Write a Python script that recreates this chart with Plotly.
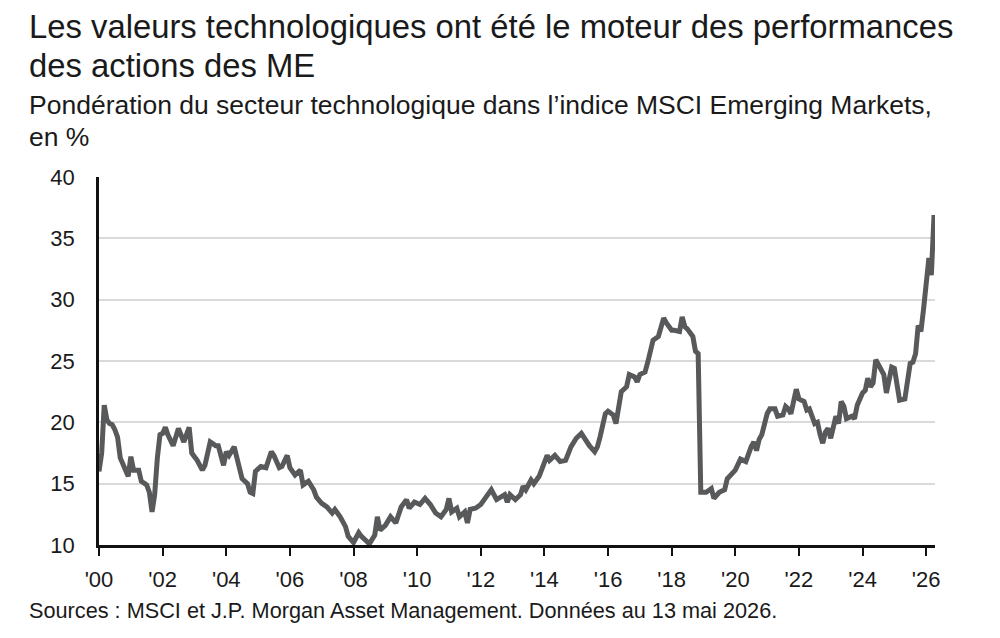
import plotly.graph_objects as go

# Tech sector weight in MSCI Emerging Markets index, %
dates = [
    "2000-01", "2000-02", "2000-03", "2000-04", "2000-05", "2000-06", "2000-07", "2000-08", "2000-09", "2000-11", "2000-12",
    "2001-01", "2001-02", "2001-04", "2001-05", "2001-07", "2001-08", "2001-09", "2001-10", "2001-11", "2001-12",
    "2002-01", "2002-02", "2002-03", "2002-05", "2002-07", "2002-08", "2002-09", "2002-11", "2002-12",
    "2003-01", "2003-02", "2003-04", "2003-05", "2003-07", "2003-09", "2003-10", "2003-12",
    "2004-01", "2004-02", "2004-04", "2004-05", "2004-07", "2004-09", "2004-10", "2004-11", "2004-12",
    "2005-02", "2005-04", "2005-06", "2005-07", "2005-09", "2005-10", "2005-12",
    "2006-01", "2006-03", "2006-05", "2006-06", "2006-08", "2006-10", "2006-11",
    "2007-01", "2007-03", "2007-05", "2007-06", "2007-08", "2007-10", "2007-11",
    "2008-01", "2008-03", "2008-04", "2008-07", "2008-09", "2008-10", "2008-11",
    "2009-01", "2009-03", "2009-05", "2009-07", "2009-09", "2009-10", "2009-12",
    "2010-02", "2010-04", "2010-06", "2010-08", "2010-10", "2010-12",
    "2011-01", "2011-02", "2011-04", "2011-05", "2011-07", "2011-08", "2011-09", "2011-11",
    "2012-01", "2012-03", "2012-05", "2012-07", "2012-09", "2012-10", "2012-11", "2012-12",
    "2013-02", "2013-04", "2013-05", "2013-06", "2013-08", "2013-09", "2013-11",
    "2014-01", "2014-02", "2014-03", "2014-05", "2014-07", "2014-09", "2014-11",
    "2015-01", "2015-03", "2015-05", "2015-06", "2015-08", "2015-09", "2015-10", "2015-12",
    "2016-01", "2016-03", "2016-04", "2016-05", "2016-06", "2016-08", "2016-09", "2016-11", "2016-12",
    "2017-01", "2017-03", "2017-04", "2017-05", "2017-06", "2017-08", "2017-10", "2017-11",
    "2018-01", "2018-02", "2018-04", "2018-05", "2018-06", "2018-07", "2018-09", "2018-10", "2018-11", "2018-12",
    "2019-02", "2019-04", "2019-05", "2019-07", "2019-09", "2019-10", "2019-11",
    "2020-01", "2020-03", "2020-05", "2020-07", "2020-08", "2020-09", "2020-10", "2020-11",
    "2021-01", "2021-02", "2021-04", "2021-05", "2021-07", "2021-08", "2021-09", "2021-10", "2021-12",
    "2022-01", "2022-03", "2022-04", "2022-05", "2022-07", "2022-08", "2022-09", "2022-10", "2022-11", "2022-12",
    "2023-01", "2023-02", "2023-03", "2023-04", "2023-05", "2023-06", "2023-07", "2023-09", "2023-10", "2023-11",
    "2024-01", "2024-02", "2024-03", "2024-04", "2024-05", "2024-06", "2024-08", "2024-09", "2024-10", "2024-11", "2024-12",
    "2025-01", "2025-02", "2025-03", "2025-05", "2025-06", "2025-07", "2025-08", "2025-09", "2025-10", "2025-11", "2025-12",
    "2026-01", "2026-02", "2026-03", "2026-04",
]

weights = [
    16.0, 17.5, 21.4, 20.2, 19.9, 19.8, 19.4, 18.8, 17.1, 16.0, 15.6,
    17.2, 16.1, 16.1, 15.2, 14.9, 14.3, 12.7, 14.1, 17.1, 19.0,
    19.1, 19.6, 19.0, 18.1, 19.5, 18.8, 18.4, 19.6, 17.5,
    17.2, 16.9, 16.1, 16.5, 18.4, 18.1, 18.1, 16.5,
    17.6, 17.3, 18.0, 17.1, 15.4, 15.0, 14.3, 14.2, 16.0,
    16.4, 16.3, 17.6, 17.3, 16.3, 16.4, 17.3,
    16.3, 15.7, 16.1, 14.9, 15.2, 14.5, 13.9,
    13.4, 13.1, 12.6, 12.9, 12.3, 11.5, 10.7,
    10.2, 11.0, 10.7, 10.1, 10.8, 12.3, 11.2,
    11.6, 12.3, 11.8, 13.1, 13.7, 13.0, 13.5,
    13.3, 13.8, 13.3, 12.6, 12.3, 12.9,
    13.8, 12.7, 13.0, 12.3, 12.7, 11.8, 12.9, 13.0,
    13.3, 13.9, 14.5, 13.7, 13.9, 14.1, 13.5, 14.1,
    13.7, 14.1, 14.8, 14.5, 15.3, 15.0, 15.6,
    16.7, 17.3, 16.9, 17.3, 16.8, 16.9, 18.0,
    18.7, 19.1, 18.3, 18.1, 17.6, 18.0, 18.8, 20.7,
    20.9, 20.6, 19.9, 21.3, 22.5, 22.9, 23.9, 23.7, 23.3,
    23.9, 24.1, 24.9, 25.8, 26.7, 27.0, 28.5, 28.1,
    27.5, 27.5, 27.4, 28.6, 27.8, 27.6, 27.0, 25.8, 25.6, 14.3,
    14.3, 14.6, 13.8, 14.3, 14.5, 15.4, 15.6,
    16.1, 17.0, 16.8, 18.0, 18.4, 17.7, 18.6, 19.0,
    20.7, 21.1, 21.1, 20.5, 20.6, 21.3, 21.1, 20.7, 22.7,
    21.9, 21.7, 21.0, 21.1, 19.9, 20.0, 19.0, 18.3, 19.2, 19.5,
    18.7, 19.9, 20.5, 19.9, 21.7, 21.3, 20.3, 20.5, 20.3, 21.4,
    22.4, 22.6, 23.6, 22.9, 23.2, 25.1, 24.3, 23.9, 22.4, 23.6, 24.5,
    24.4, 23.0, 21.8, 21.9, 23.4, 24.8, 24.9, 25.6, 27.9, 27.4, 29.2,
    31.1, 33.4, 32.0, 36.9,
]

title_lines = [
    "Les valeurs technologiques ont été le moteur des performances",
    "des actions des ME",
]
subtitle_lines = [
    "Pondération du secteur technologique dans l’indice MSCI Emerging Markets,",
    "en %",
]
source_text = "Sources : MSCI et J.P. Morgan Asset Management. Données au 13 mai 2026."

FONT = "Liberation Sans"
INK = "#1a1a1a"

fig = go.Figure()
fig.add_trace(go.Scatter(
    x=[d + "-01" for d in dates],
    y=weights,
    mode="lines",
    line=dict(color="#58595b", width=5),
    hoverinfo="skip",
    showlegend=False,
))

# plot area geometry (pixels) for annotation placement
L, R, T, B = 99, 65, 177, 93
W, H = 1000, 638
pw, ph = W - L - R, H - T - B

def px_x(x):
    return (x - L) / pw

def px_y(y):
    return (H - B - y) / ph

annotations = []
text_rows = [
    (title_lines[0], 7, 32.8),
    (title_lines[1], 46, 32.8),
    (subtitle_lines[0], 89, 26.5),
    (subtitle_lines[1], 121, 26.5),
    (source_text, 597, 21.7),
]
for txt, top, size in text_rows:
    annotations.append(dict(
        text=txt, xref="paper", yref="paper",
        x=px_x(28), y=px_y(top), xanchor="left", yanchor="top",
        showarrow=False, align="left", borderpad=0,
        font=dict(family=FONT, size=size, color=INK),
    ))

fig.update_layout(
    width=W, height=H,
    margin=dict(l=L, r=R, t=T, b=B, pad=0),
    paper_bgcolor="white", plot_bgcolor="white",
    font=dict(family=FONT, color=INK),
    annotations=annotations,
    xaxis=dict(
        type="date",
        range=["2000-01-01", "2026-04-12"],
        tick0="2000-01-01", dtick="M24", tickformat="'%y",
        showgrid=False, zeroline=False,
        showline=True, linecolor="#111111", linewidth=2.5,
        ticks="outside", ticklen=8, tickwidth=2, tickcolor="#111111",
        tickfont=dict(family=FONT, size=22, color=INK),
        ticklabelstandoff=5,
    ),
    yaxis=dict(
        range=[10, 40], dtick=5, tick0=10,
        showgrid=True, gridcolor="#dadada", gridwidth=1.5,
        zeroline=False,
        showline=True, linecolor="#111111", linewidth=2.5,
        ticks="",
        tickfont=dict(family=FONT, size=22, color=INK),
        ticklabelstandoff=17,
    ),
)

fig.write_html("out.html")
